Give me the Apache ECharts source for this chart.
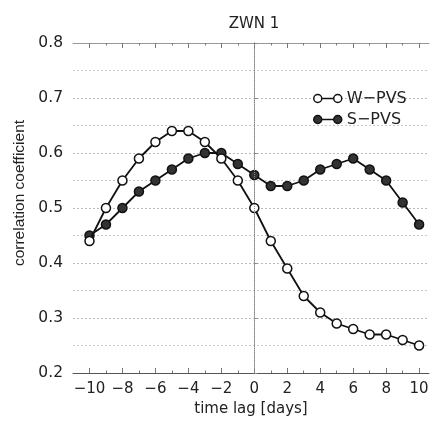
<!DOCTYPE html>
<html>
<head>
<meta charset="utf-8">
<script src="https://cdn.jsdelivr.net/npm/echarts@6/dist/echarts.min.js"></script>
<style>html,body{margin:0;padding:0;background:#fff;}#c{width:436px;height:423px;}</style>
</head>
<body>
<div id="c"></div>
<script>
const lags = [-10,-9,-8,-7,-6,-5,-4,-3,-2,-1,0,1,2,3,4,5,6,7,8,9,10];
const wpvs = [0.44,0.50,0.55,0.59,0.62,0.64,0.64,0.62,0.59,0.55,0.50,0.44,0.39,0.34,0.31,0.29,0.28,0.27,0.27,0.26,0.25];
const spvs = [0.45,0.47,0.50,0.53,0.55,0.57,0.59,0.60,0.60,0.58,0.56,0.54,0.54,0.55,0.57,0.58,0.59,0.57,0.55,0.51,0.47];
const majorX = [-10,-8,-6,-4,-2,0,2,4,6,8,10];
const minorX = [-9,-7,-5,-3,-1,1,3,5,7,9];
const yTicks = [0.2,0.3,0.4,0.5,0.6,0.7,0.8];
const titleText = 'ZWN 1';
const xName = 'time lag [days]';
const yName = 'correlation coefficient';
const names = ['W\u2212PVS','S\u2212PVS'];

const HFONT = '"DejaVu Sans", "Liberation Sans", sans-serif';
const VFONT = '"Liberation Sans", Arial, Helvetica, sans-serif';
const chart = echarts.init(document.getElementById('c'), null, {renderer:'canvas'});
const fmtX = v => v < 0 ? '\u2212' + Math.abs(v) : String(v);
const iconPath = 'path://M0,4a4,4 0 1,0 8,0a4,4 0 1,0 -8,0M20,4a4,4 0 1,0 8,0a4,4 0 1,0 -8,0M8,4L20,4';
const XMIN = -11, XMAX = 10.6;

function xAx(pos, ticks, len, showLine, showLabel) {
  return {
    type:'value', min:XMIN, max:XMAX, position:pos,
    axisLine:{show:showLine, onZero:false, lineStyle:{color: pos==='bottom' ? '#555' : '#999', width:1}},
    axisTick:{show:true, inside:true, length:len, customValues:ticks, lineStyle:{color:'#777', width:1}},
    axisLabel:{show:showLabel, customValues:majorX, formatter:fmtX, color:'#222', fontSize:15, fontFamily:HFONT, margin:9},
    splitLine:{show:false},
    name: showLabel ? xName : '', nameLocation:'middle', nameGap:23,
    nameTextStyle:{color:'#222', fontSize:15, fontFamily:HFONT, verticalAlign:'top'}
  };
}

chart.setOption({
  animation:false,
  backgroundColor:'#fff',
  title:{text:titleText, left:249, top:12, textAlign:'center',
    textStyle:{fontSize:15, fontWeight:'normal', color:'#222', fontFamily:HFONT}},
  grid:{left:73, right:7, top:43, bottom:50, containLabel:false},
  legend:{
    orient:'vertical', left:313, top:90, padding:0, itemWidth:28, itemHeight:8, itemGap:4,
    textStyle:{fontSize:16, lineHeight:17, color:'#222', fontFamily:HFONT},
    data:[
      {name:names[0], icon:iconPath, itemStyle:{color:'#fff', borderColor:'#111', borderWidth:1.5}},
      {name:names[1], icon:iconPath, itemStyle:{color:'#333', borderColor:'#111', borderWidth:1.5}}
    ]
  },
  graphic:[{
    type:'text', x:20, y:193, rotation:Math.PI/2,
    style:{text:yName, fontSize:15.5, fontFamily:VFONT, fill:'#222', align:'center', verticalAlign:'middle'}
  }],
  xAxis:[
    xAx('bottom', majorX, 5, true, true),
    xAx('bottom', minorX, 2.5, false, false),
    xAx('top', majorX, 5, true, false),
    xAx('top', minorX, 2.5, false, false)
  ],
  yAxis:[
    {type:'value', min:0.2, max:0.8, interval:0.1, position:'left',
     axisLine:{show:true, lineStyle:{color:'#555', width:1}},
     axisTick:{show:true, inside:true, length:3, lineStyle:{color:'#888'}},
     axisLabel:{formatter:v=>v.toFixed(1), color:'#222', fontSize:15.5, fontFamily:HFONT, margin:10},
     splitLine:{show:true, lineStyle:{color:'#bbb', type:[2,2], width:1}},
     minorTick:{show:false, splitNumber:2},
     minorSplitLine:{show:true, lineStyle:{color:'#c8c8c8', type:[2,2], width:1}}
    },
    {type:'value', min:0.2, max:0.8, interval:0.1, position:'right',
     axisLine:{show:true, lineStyle:{color:'#aaa', width:1}},
     axisTick:{show:false}, axisLabel:{show:false}, splitLine:{show:false}}
  ],
  series:[
    {name:names[1], type:'line', xAxisIndex:0, yAxisIndex:0,
     data:lags.map((x,i)=>[x, spvs[i]]),
     symbol:'circle', symbolSize:9,
     lineStyle:{color:'#111', width:1.8},
     itemStyle:{color:'#333', borderColor:'#111', borderWidth:1.5},
     markLine:{silent:true, symbol:'none', label:{show:false},
       lineStyle:{color:'#888', type:'dotted', width:1}, data:[{xAxis:0}]},
     z:3},
    {name:names[0], type:'line', xAxisIndex:0, yAxisIndex:0,
     data:lags.map((x,i)=>[x, wpvs[i]]),
     symbol:'circle', symbolSize:9,
     lineStyle:{color:'#111', width:1.8},
     itemStyle:{color:'#fff', borderColor:'#111', borderWidth:1.5},
     z:4}
  ]
});
</script>
</body>
</html>
